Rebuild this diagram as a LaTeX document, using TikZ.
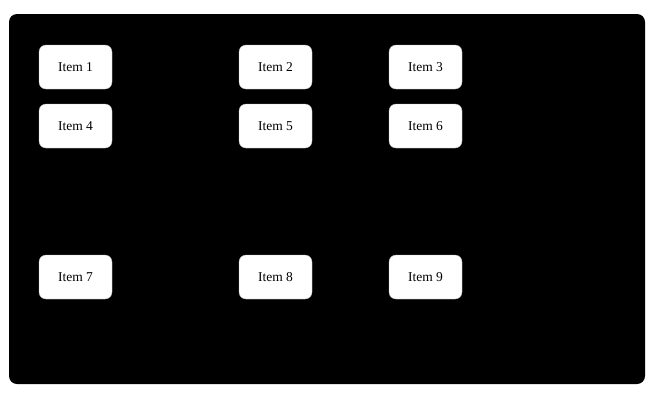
\documentclass[tikz,border=0pt]{standalone}
\usepackage{fontspec}
\setmainfont{Liberation Serif}
\begin{document}
\begin{tikzpicture}[x=1pt,y=-1pt,
  itembox/.style={draw=black!25,fill=white,rounded corners=7pt,minimum width=73pt,minimum height=44pt,inner sep=0pt,font=\fontsize{13.5}{16}\selectfont}]
\useasboundingbox (0,0) rectangle (655,400);
\fill[white] (0,0) rectangle (655,400);
\fill[black,rounded corners=8pt] (9,14) rectangle (645,384);
\node[itembox] (i1) at (75.5,67) {Item 1};
\node[itembox] (i2) at (275.5,67) {Item 2};
\node[itembox] (i3) at (425.5,67) {Item 3};
\node[itembox] (i4) at (75.5,126) {Item 4};
\node[itembox] (i5) at (275.5,126) {Item 5};
\node[itembox] (i6) at (425.5,126) {Item 6};
\node[itembox] (i7) at (75.5,277) {Item 7};
\node[itembox] (i8) at (275.5,277) {Item 8};
\node[itembox] (i9) at (425.5,277) {Item 9};
\end{tikzpicture}
\end{document}
